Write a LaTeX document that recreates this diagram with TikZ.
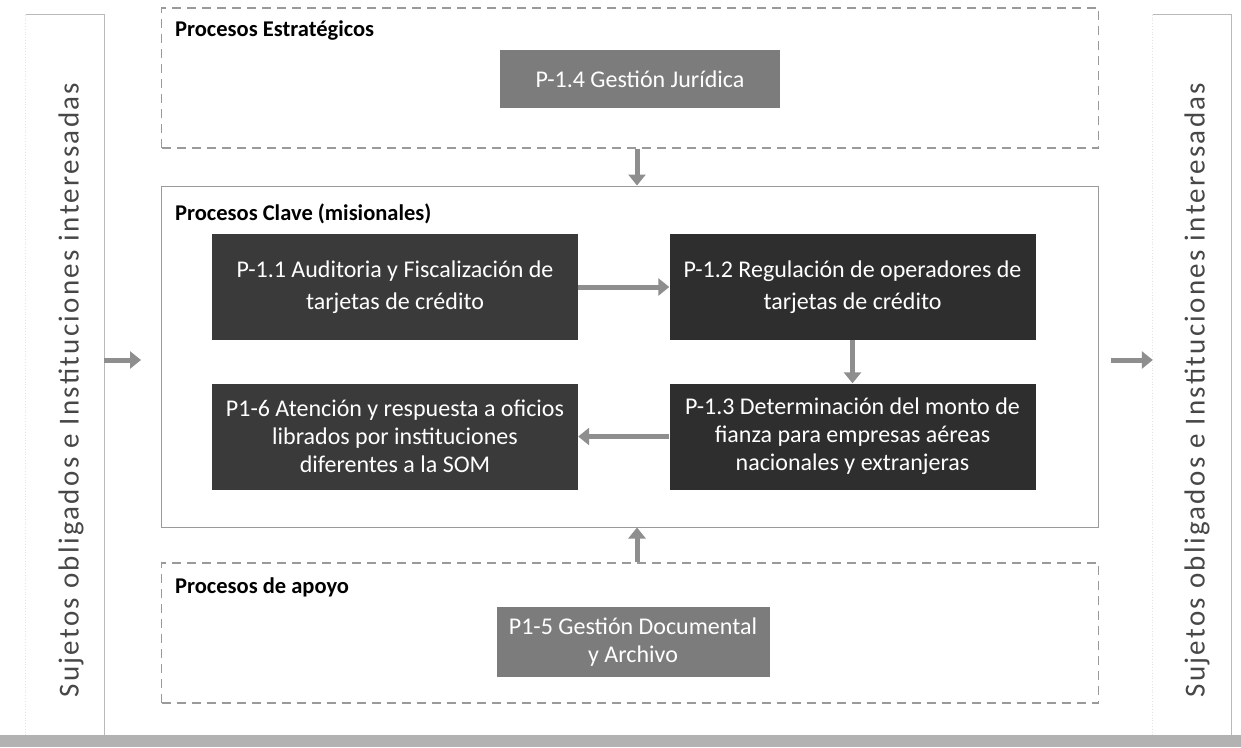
\documentclass[tikz,border=0pt]{standalone}
\usepackage{fontspec}
\setmainfont{Carlito}
\newfontfamily\sidefont[LetterSpace=8]{Carlito}
\usetikzlibrary{arrows.meta}
\definecolor{boxdark}{HTML}{3A3A3A}
\definecolor{boxdarker}{HTML}{2E2E2E}
\definecolor{boxmid}{HTML}{7C7C7C}
\definecolor{arrowgray}{HTML}{8E8E8E}
\definecolor{framegray}{HTML}{9A9A9A}
\tikzset{
  procbox/.style={draw=none, text=white, align=center, inner sep=0pt,
    font=\fontsize{24}{32}\selectfont},
  darkbox/.style={procbox, fill=boxdark, minimum width=366, minimum height=106},
  darkerbox/.style={procbox, fill=boxdarker, minimum width=366, minimum height=106},
  threeline/.style={font=\fontsize{24}{28}\selectfont},
  midbox/.style={procbox, fill=boxmid},
  dashframe/.style={draw=framegray, line width=1.1, dash pattern=on 9 off 6},
  solidframe/.style={draw=framegray, line width=1},
  sideframe/.style={draw=gray!55, line width=0.8},
  faintedge/.style={draw=gray!22, line width=0.8, dotted},
  blockarrow/.style={draw=arrowgray, line width=5,
    -{Triangle[length=11, width=17]}},
  grouplabel/.style={anchor=base west, inner sep=0pt,
    font=\fontsize{22.5}{26}\selectfont\bfseries},
  sidetext/.style={rotate=90, inner sep=0pt, text=black!72,
    font=\sidefont\fontsize{29}{34}\selectfont},
}
\begin{document}
\begin{tikzpicture}[x=1pt, y=-1pt]
\useasboundingbox (0,0) rectangle (1241,747);
\fill[white] (0,0) rectangle (1241,747);
% bottom band
\fill[gray!60] (0,735) rectangle (1241,747);

% side frames
\node[draw=none, minimum width=78, minimum height=720, inner sep=0pt] (leftbox) at (65,375) {};
\draw[sideframe] (leftbox.north west) -- (leftbox.north east) -- (leftbox.south east);
\draw[faintedge] (leftbox.north west) -- (leftbox.south west);
\node[sidetext] (lefttext) at (71,390) {Sujetos obligados e Instituciones interesadas};

\node[draw=none, minimum width=78, minimum height=720, inner sep=0pt] (rightbox) at (1192,375) {};
\draw[sideframe] (rightbox.north west) -- (rightbox.north east) -- (rightbox.south east);
\draw[faintedge] (rightbox.north west) -- (rightbox.south west);
\node[sidetext] (righttext) at (1197,390) {Sujetos obligados e Instituciones interesadas};

% group frames
\node[dashframe, minimum width=937, minimum height=140, inner sep=0pt] (strat) at (630,78) {};
\node[solidframe, minimum width=937, minimum height=341, inner sep=0pt] (clave) at (630,356.5) {};
\node[dashframe, minimum width=937, minimum height=140, inner sep=0pt] (apoyo) at (630,633) {};

\node[grouplabel] (lstrat) at (175,36) {Procesos Estratégicos};
\node[grouplabel] (lclave) at (175,220) {Procesos Clave (misionales)};
\node[grouplabel] (lapoyo) at (175,593) {Procesos de apoyo};

% process boxes
\node[midbox, minimum width=280, minimum height=58] (p14) at (640,79) {P-1.4 Gestión Jurídica};
\node[darkbox] (p11) at (395,287) {P-1.1 Auditoria y Fiscalización de\\tarjetas de crédito};
\node[darkerbox] (p12) at (852.5,287) {P-1.2 Regulación de operadores de\\tarjetas de crédito};
\node[darkerbox, threeline] (p13) at (852.5,436.5) {P-1.3 Determinación del monto de\\fianza para empresas aéreas\\nacionales y extranjeras};
\node[darkbox, threeline] (p16) at (395,436.5) {P1-6 Atención y respuesta a oficios\\librados por instituciones\\diferentes a la SOM};
\node[midbox, minimum width=273, minimum height=70, font=\fontsize{24}{28}\selectfont] (p15) at (633,642) {P1-5 Gestión Documental\\y Archivo};

% arrows
\draw[blockarrow] (p11) -- (p12);
\draw[blockarrow] (p12) -- (p13);
\draw[blockarrow] (p13) -- (p16);
\coordinate (vx) at (637,0);
\draw[blockarrow] (strat.south -| vx) -- (clave.north -| vx);
\draw[blockarrow] (apoyo.north -| vx) -- (clave.south -| vx);
\coordinate (la) at (141,360);
\draw[blockarrow] (leftbox.east |- la) -- (la);
\coordinate (ra) at (1111,360);
\draw[blockarrow] (ra) -- (rightbox.west |- ra);
\end{tikzpicture}
\end{document}
